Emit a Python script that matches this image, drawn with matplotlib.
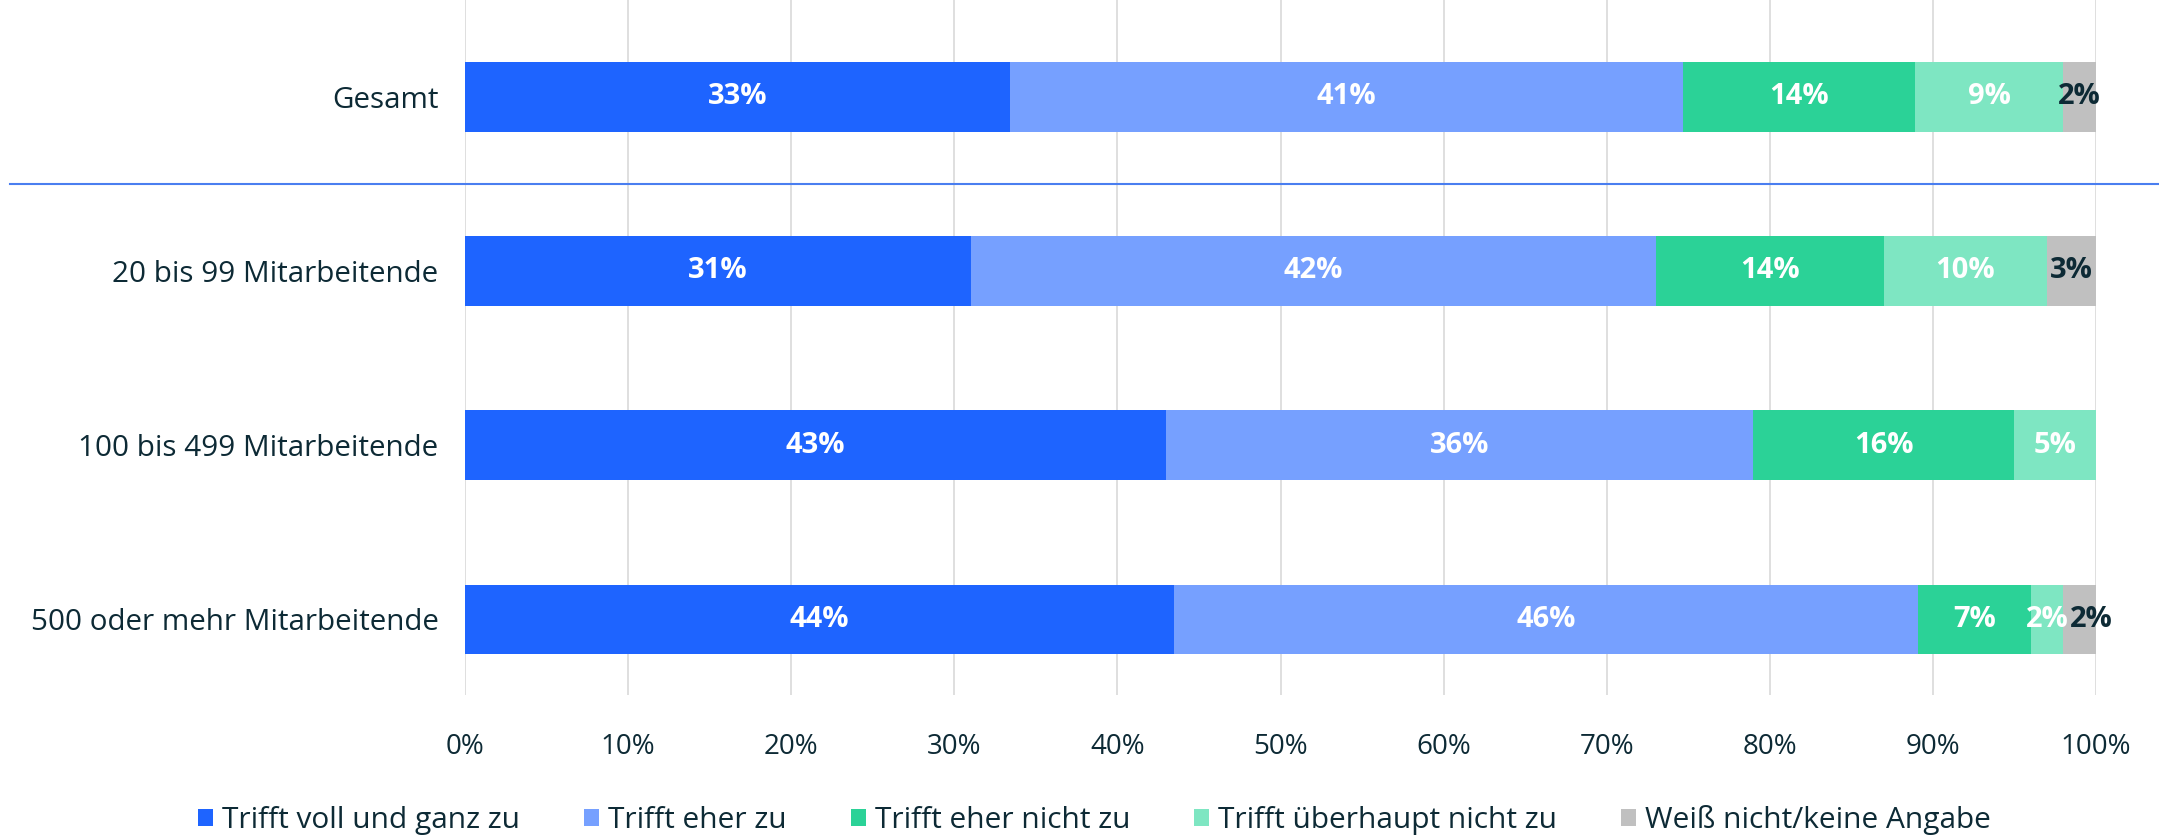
import matplotlib
matplotlib.use("Agg")
import matplotlib.pyplot as plt
from matplotlib.patches import Patch
from matplotlib.transforms import blended_transform_factory
import numpy as np

categories = ["Gesamt", "20 bis 99 Mitarbeitende", "100 bis 499 Mitarbeitende", "500 oder mehr Mitarbeitende"]
series_names = ["Trifft voll und ganz zu", "Trifft eher zu", "Trifft eher nicht zu",
                "Trifft überhaupt nicht zu", "Weiß nicht/keine Angabe"]
voll = [33.4, 31.0, 43.0, 43.5]
eher = [41.3, 42.0, 36.0, 45.6]
eher_nicht = [14.2, 14.0, 16.0, 6.9]
ueberhaupt_nicht = [9.1, 10.0, 5.0, 2.0]
weiss_nicht = [2.0, 3.0, 0.0, 2.0]
xticks = [0, 10, 20, 30, 40, 50, 60, 70, 80, 90, 100]

colors = ["#1e64ff", "#76a0ff", "#2bd297", "#7ee6c2", "#c0c0c0"]
label_colors = ["white", "white", "white", "white", "#0d2a35"]
text_color = "#0d2a35"

plt.rcParams['font.family'] = ['Open Sans', 'DejaVu Sans']

fig = plt.figure(figsize=(21.59, 8.35), dpi=100)
ax = fig.add_axes([465/2159, 1 - 695/835, (2096-465)/2159, 695/835])

series = [voll, eher, eher_nicht, ueberhaupt_nicht, weiss_nicht]
y = np.arange(len(categories))
left = np.zeros(len(categories))
prev = np.full(len(categories), 100.0)
for k, (vals, col, lc) in enumerate(zip(series, colors, label_colors)):
    vals = np.array(vals)
    ax.barh(y, vals, left=left, height=0.4, color=col, zorder=3)
    for yi, (l, v) in enumerate(zip(left, vals)):
        if v > 0:
            xc = l + v / 2
            if k == len(series) - 1 and prev[yi] < 3:
                xc += 0.7
            ax.text(xc, yi, f"{v:.0f}%", ha="center", va="center",
                    color=lc, fontsize=21, fontweight="bold", zorder=4)
    prev = vals
    left = left + vals

ax.set_xlim(0, 100)
ax.set_ylim(len(categories) - 1 + 0.434, -0.555)
ax.set_xticks(xticks)
ax.set_xticklabels([f"{t}%" for t in xticks])
ax.set_yticks(y)
ax.set_yticklabels(categories)
ax.tick_params(axis="x", length=0, labelsize=20, colors=text_color, pad=27)
ax.tick_params(axis="y", length=0, labelsize=21.3, colors=text_color, pad=19)
for s in ax.spines.values():
    s.set_visible(False)
ax.grid(axis="x", color="#d9d9d9", linewidth=1.2, zorder=0)
ax.set_axisbelow(True)

# separator line between Gesamt and subgroups
tr = blended_transform_factory(fig.transFigure, ax.transData)
ax.plot([10/2159, 1.0], [0.5, 0.5], transform=tr, color="#4a7ef0",
        linewidth=1.5, clip_on=False, zorder=5)

handles = [Patch(facecolor=c, edgecolor="none") for c in colors]
fig.legend(handles, series_names, loc="center", bbox_to_anchor=(0.507, 15/835),
           ncol=5, frameon=False, fontsize=21.5, handlelength=0.5, handleheight=0.5,
           handletextpad=0.3, columnspacing=2.15, labelcolor=text_color)

fig.savefig("out.png", dpi=100)
